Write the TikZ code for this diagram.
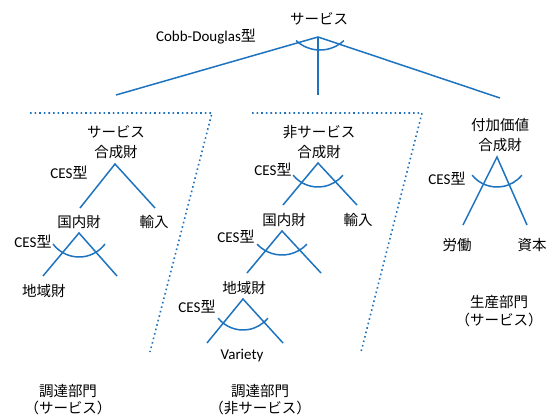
\documentclass[tikz,border=0pt]{standalone}
\usepackage{fontspec}
\setmainfont{Carlito}
\newfontfamily\cjk{Noto Sans CJK JP}
\definecolor{lblue}{RGB}{30,115,190}
\begin{document}
\begin{tikzpicture}[x=1pt,y=1pt,
  lab/.style={font=\cjk\fontsize{14.5}{20}\selectfont, align=center, inner sep=0pt},
  labb/.style={font=\cjk\fontsize{14.5}{17}\selectfont, align=center, inner sep=0pt},
  ces/.style={font=\fontsize{15}{18}\selectfont, inner sep=0pt},
  link/.style={draw=lblue, line width=1.5pt},
  dotline/.style={draw=lblue, line width=1.6pt, dash pattern=on 1.6pt off 3pt}]
\useasboundingbox (0,0) rectangle (550,-418);
% top level
\node[lab] (top) at (319,-19) {サービス};
\node[ces] (cd) at (206,-37) {Cobb-Douglas{\cjk 型}};
\coordinate (a0) at (318,-37);
\coordinate (e0l) at (116,-95);
\coordinate (e0m) at (318,-95);
\coordinate (e0r) at (500,-98);
\draw[link] (e0l) -- (a0) -- (e0r);
\draw[link] (a0) -- (e0m);
\coordinate (c0) at (320,-15);
\draw[link] (c0) ++(227:35) arc[start angle=227,end angle=313,radius=35];
% dotted boundaries
\coordinate (d1a) at (30,-113);
\coordinate (d1b) at (212,-113);
\coordinate (d1c) at (150,-352);
\draw[dotline] (d1a) -- (d1b) -- (d1c);
\coordinate (d2a) at (252,-113);
\coordinate (d2b) at (422,-113);
\coordinate (d2c) at (361,-352);
\draw[dotline] (d2a) -- (d2b) -- (d2c);
% left panel
\node[lab] (sc) at (116,-142) {サービス\\合成財};
\coordinate (a1) at (115,-164);
\coordinate (l1) at (80,-208);
\coordinate (r1) at (155,-208);
\draw[link] (l1) -- (a1) -- (r1);
\node[ces] (ces1) at (69,-173) {CES{\cjk 型}};
\node[lab] (dom1) at (79,-222) {国内財};
\node[lab] (imp1) at (154,-222) {輸入};
\coordinate (a2) at (79,-233);
\coordinate (l2) at (43,-276);
\coordinate (r2) at (117,-276);
\draw[link] (l2) -- (a2) -- (r2);
\coordinate (c2) at (79,-224.5);
\draw[link] (c2) ++(217:32.5) arc[start angle=217,end angle=323,radius=32.5];
\node[ces] (ces2) at (33,-242) {CES{\cjk 型}};
\node[lab] (reg1) at (44,-291) {地域財};
\node[labb] (proc1) at (68,-400) {調達部門\\（サービス）};
% middle panel
\node[lab] (nsc) at (319,-142) {非サービス\\合成財};
\coordinate (a3) at (318,-163);
\coordinate (l3) at (283,-205);
\coordinate (r3) at (357,-205);
\draw[link] (l3) -- (a3) -- (r3);
\coordinate (c3) at (318,-155);
\draw[link] (c3) ++(219:32) arc[start angle=219,end angle=321,radius=32];
\node[ces] (ces3) at (273,-170) {CES{\cjk 型}};
\node[lab] (dom2) at (284,-220) {国内財};
\node[lab] (imp2) at (358,-220) {輸入};
\coordinate (a4) at (282,-231);
\coordinate (l4) at (247,-273);
\coordinate (r4) at (321,-273);
\draw[link] (l4) -- (a4) -- (r4);
\coordinate (c4) at (282,-221);
\draw[link] (c4) ++(223:34) arc[start angle=223,end angle=317,radius=34];
\node[ces] (ces4) at (236,-237) {CES{\cjk 型}};
\node[lab] (reg2) at (244,-288) {地域財};
\coordinate (a5) at (243,-299);
\coordinate (l5) at (207,-343);
\coordinate (r5) at (283,-343);
\draw[link] (l5) -- (a5) -- (r5);
\coordinate (c5) at (243,-298);
\draw[link] (c5) ++(219:32) arc[start angle=219,end angle=321,radius=32];
\node[ces] (ces5) at (197,-307) {CES{\cjk 型}};
\node[ces] (var) at (242,-356) {Variety};
\node[labb] (proc2) at (260,-400) {調達部門\\（非サービス）};
% right panel
\node[lab] (va) at (500,-135) {付加価値\\合成財};
\coordinate (a6) at (497,-157);
\coordinate (l6) at (463,-225);
\coordinate (r6) at (527,-225);
\draw[link] (l6) -- (a6) -- (r6);
\coordinate (c6) at (497,-155);
\draw[link] (c6) ++(219:32) arc[start angle=219,end angle=321,radius=32];
\node[ces] (ces6) at (447,-179) {CES{\cjk 型}};
\node[lab] (lab6) at (457,-245) {労働};
\node[lab] (cap6) at (532,-245) {資本};
\node[font=\cjk\fontsize{14.5}{18}\selectfont, align=center, inner sep=0pt] (prod) at (499,-311) {生産部門\\（サービス）};
\end{tikzpicture}
\end{document}
